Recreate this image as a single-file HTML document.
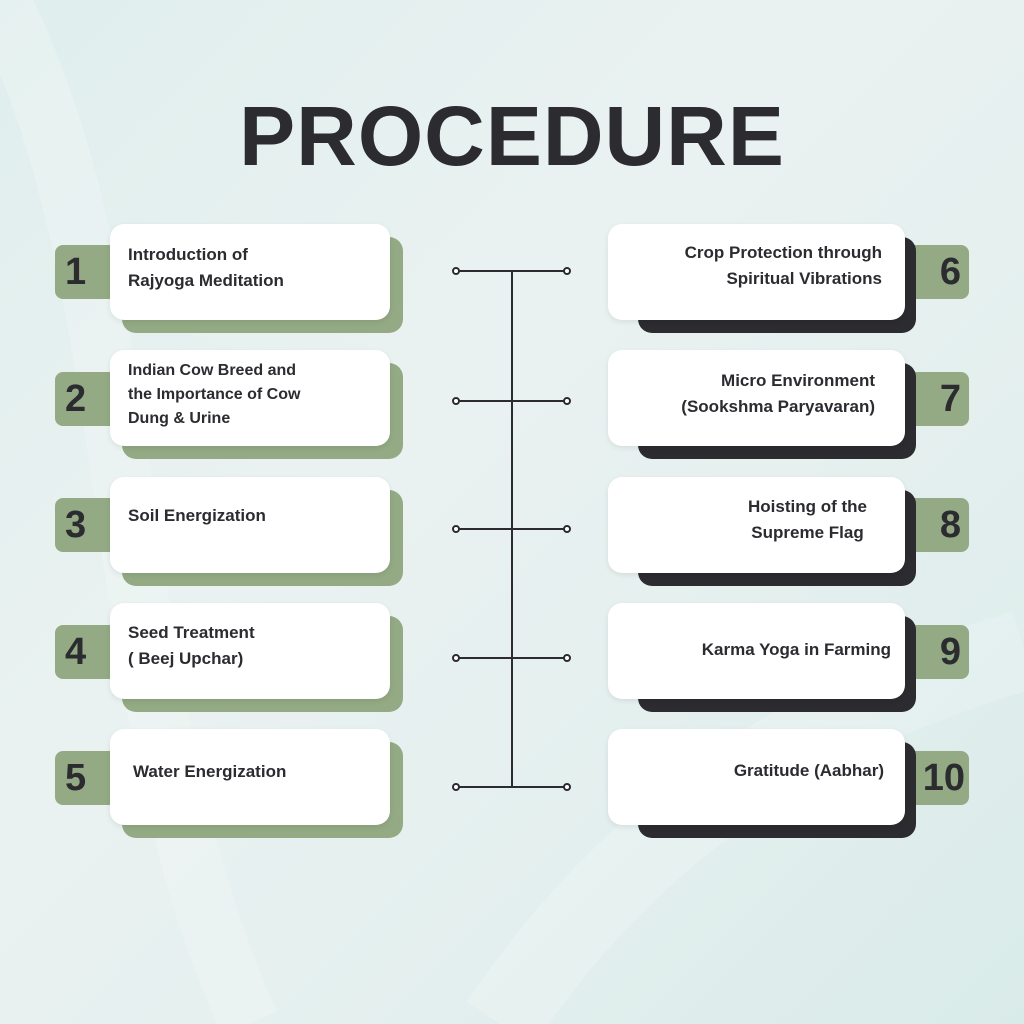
<!DOCTYPE html>
<html><head><style>
body{margin:0;width:1024px;height:1024px;overflow:hidden;background:linear-gradient(135deg,#dfeeed 0%,#eaf2f1 40%,#e3efee 70%,#d9ebe9 100%);font-family:"Liberation Sans",sans-serif;position:relative}
.t{position:absolute;left:0;width:1024px;top:88px;text-align:center;font-size:84px;font-weight:bold;color:#2b2b30;letter-spacing:1px}
.sh{position:absolute;border-radius:14px}
.w{position:absolute;background:#fff;border-radius:14px;box-shadow:0 2px 6px rgba(0,0,0,.08)}
.n{position:absolute;background:#93aa84;border-radius:8px;color:#2b2b30;font-weight:bold;font-size:38px;display:flex;align-items:center;justify-content:center}
.tx{position:absolute;font-weight:bold;font-size:17px;line-height:26px;color:#2b2b30}
</style></head><body>
<svg style="position:absolute;left:0;top:0" width="1024" height="1024">
<path d="M0 0 C150 300 100 700 250 1024" stroke="#f4f9f8" stroke-width="60" fill="none" opacity=".3"/>
<path d="M500 1024 C650 800 850 700 1024 650" stroke="#f2f8f7" stroke-width="80" fill="none" opacity=".3"/>
<g stroke="#2b2b30" stroke-width="2" fill="#fff">
<line x1="512" y1="271" x2="512" y2="787"/>
<line x1="456" y1="271" x2="567" y2="271"/><line x1="456" y1="401" x2="567" y2="401"/><line x1="456" y1="529" x2="567" y2="529"/><line x1="456" y1="658" x2="567" y2="658"/><line x1="456" y1="787" x2="567" y2="787"/>
<circle cx="456" cy="271" r="3"/><circle cx="567" cy="271" r="3"/><circle cx="456" cy="401" r="3"/><circle cx="567" cy="401" r="3"/><circle cx="456" cy="529" r="3"/><circle cx="567" cy="529" r="3"/><circle cx="456" cy="658" r="3"/><circle cx="567" cy="658" r="3"/><circle cx="456" cy="787" r="3"/><circle cx="567" cy="787" r="3"/>
</g></svg>
<div class="t">PROCEDURE</div>

<div class="n" style="left:55px;top:245px;width:70px;height:54px;justify-content:flex-start;padding-left:10px;box-sizing:border-box">1</div>
<div class="sh" style="left:122px;top:237px;width:281px;height:96px;background:#93aa84"></div>
<div class="w" style="left:110px;top:224px;width:280px;height:96px"></div>
<div class="tx" style="left:128px;top:242px">Introduction of<br>Rajyoga Meditation</div>

<div class="n" style="left:55px;top:372px;width:70px;height:54px;justify-content:flex-start;padding-left:10px;box-sizing:border-box">2</div>
<div class="sh" style="left:122px;top:363px;width:281px;height:96px;background:#93aa84"></div>
<div class="w" style="left:110px;top:350px;width:280px;height:96px"></div>
<div class="tx" style="left:128px;top:359px;font-size:16px;line-height:24px">Indian Cow Breed and<br>the Importance of Cow<br>Dung &amp; Urine</div>

<div class="n" style="left:55px;top:498px;width:70px;height:54px;justify-content:flex-start;padding-left:10px;box-sizing:border-box">3</div>
<div class="sh" style="left:122px;top:490px;width:281px;height:96px;background:#93aa84"></div>
<div class="w" style="left:110px;top:477px;width:280px;height:96px"></div>
<div class="tx" style="left:128px;top:503px">Soil Energization</div>

<div class="n" style="left:55px;top:625px;width:70px;height:54px;justify-content:flex-start;padding-left:10px;box-sizing:border-box">4</div>
<div class="sh" style="left:122px;top:616px;width:281px;height:96px;background:#93aa84"></div>
<div class="w" style="left:110px;top:603px;width:280px;height:96px"></div>
<div class="tx" style="left:128px;top:620px">Seed Treatment<br>( Beej Upchar)</div>

<div class="n" style="left:55px;top:751px;width:70px;height:54px;justify-content:flex-start;padding-left:10px;box-sizing:border-box">5</div>
<div class="sh" style="left:122px;top:742px;width:281px;height:96px;background:#93aa84"></div>
<div class="w" style="left:110px;top:729px;width:280px;height:96px"></div>
<div class="tx" style="left:133px;top:759px">Water Energization</div>

<div class="n" style="left:895px;top:245px;width:74px;height:54px;justify-content:flex-end;padding-right:8px;box-sizing:border-box">6</div>
<div class="sh" style="left:638px;top:237px;width:278px;height:96px;background:#2b2b30"></div>
<div class="w" style="left:608px;top:224px;width:297px;height:96px"></div>
<div class="tx" style="right:142px;top:240px;text-align:right">Crop Protection through<br>Spiritual Vibrations</div>

<div class="n" style="left:895px;top:372px;width:74px;height:54px;justify-content:flex-end;padding-right:8px;box-sizing:border-box">7</div>
<div class="sh" style="left:638px;top:363px;width:278px;height:96px;background:#2b2b30"></div>
<div class="w" style="left:608px;top:350px;width:297px;height:96px"></div>
<div class="tx" style="right:149px;top:368px;text-align:right">Micro Environment<br>(Sookshma Paryavaran)</div>

<div class="n" style="left:895px;top:498px;width:74px;height:54px;justify-content:flex-end;padding-right:8px;box-sizing:border-box">8</div>
<div class="sh" style="left:638px;top:490px;width:278px;height:96px;background:#2b2b30"></div>
<div class="w" style="left:608px;top:477px;width:297px;height:96px"></div>
<div class="tx" style="right:157px;top:494px;text-align:center">Hoisting of the<br>Supreme Flag</div>

<div class="n" style="left:895px;top:625px;width:74px;height:54px;justify-content:flex-end;padding-right:8px;box-sizing:border-box">9</div>
<div class="sh" style="left:638px;top:616px;width:278px;height:96px;background:#2b2b30"></div>
<div class="w" style="left:608px;top:603px;width:297px;height:96px"></div>
<div class="tx" style="right:133px;top:637px;text-align:right">Karma Yoga in Farming</div>

<div class="n" style="left:895px;top:751px;width:74px;height:54px;justify-content:flex-end;padding-right:4px;box-sizing:border-box">10</div>
<div class="sh" style="left:638px;top:742px;width:278px;height:96px;background:#2b2b30"></div>
<div class="w" style="left:608px;top:729px;width:297px;height:96px"></div>
<div class="tx" style="right:140px;top:758px;text-align:right">Gratitude (Aabhar)</div>
</body></html>
